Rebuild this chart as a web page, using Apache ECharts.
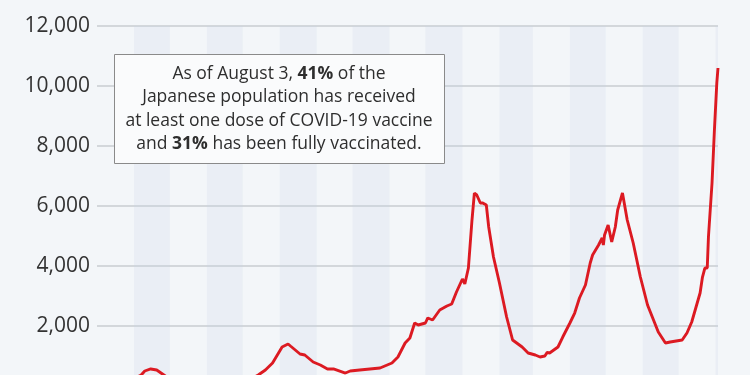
<!DOCTYPE html>
<html>
<head>
<meta charset="utf-8">
<script src="https://cdn.jsdelivr.net/npm/echarts@6/dist/echarts.min.js"></script>
<style>
html,body{margin:0;padding:0;width:750px;height:375px;overflow:hidden;background:#f3f6f9;}
#chart{width:750px;height:420px;}
</style>
</head>
<body>
<div id="chart"></div>
<script>
const dates = ['2020-03-01','2020-03-10','2020-03-20','2020-03-27','2020-04-01','2020-04-04','2020-04-07','2020-04-10','2020-04-15','2020-04-20','2020-04-26','2020-05-01','2020-05-08','2020-05-18','2020-06-01','2020-06-15','2020-07-01','2020-07-08','2020-07-14','2020-07-20','2020-07-26','2020-08-03','2020-08-08','2020-08-10','2020-08-18','2020-08-22','2020-08-29','2020-09-04','2020-09-10','2020-09-15','2020-09-25','2020-09-29','2020-10-07','2020-10-24','2020-11-03','2020-11-08','2020-11-14','2020-11-18','2020-11-22','2020-11-25','2020-12-01','2020-12-03','2020-12-07','2020-12-13','2020-12-19','2020-12-23','2020-12-27','2021-01-01','2021-01-03','2021-01-06','2021-01-09','2021-01-11','2021-01-13','2021-01-16','2021-01-18','2021-01-21','2021-01-23','2021-01-27','2021-02-01','2021-02-07','2021-02-12','2021-02-20','2021-02-25','2021-03-03','2021-03-07','2021-03-11','2021-03-13','2021-03-15','2021-03-22','2021-03-26','2021-04-01','2021-04-05','2021-04-09','2021-04-14','2021-04-18','2021-04-20','2021-04-25','2021-04-28','2021-04-29','2021-04-30','2021-05-03','2021-05-06','2021-05-09','2021-05-11','2021-05-15','2021-05-19','2021-05-24','2021-05-30','2021-06-05','2021-06-10','2021-06-14','2021-06-20','2021-06-24','2021-07-04','2021-07-08','2021-07-12','2021-07-19','2021-07-21','2021-07-23','2021-07-25','2021-07-26','2021-07-29','2021-07-31','2021-08-02','2021-08-03'];
const cases = [15,45,50,120,220,310,367,500,567,533,367,220,100,35,35,45,110,230,367,533,767,1300,1400,1333,1067,1033,800,700,567,567,433,500,533,600,767,967,1433,1600,2100,2033,2100,2267,2200,2533,2667,2733,3133,3567,3400,3933,5533,6433,6367,6100,6100,6033,5300,4300,3433,2300,1533,1300,1100,1033,967,1000,1120,1100,1300,1633,2100,2433,2933,3367,4100,4367,4700,4933,4700,5033,5367,4800,5300,5867,6433,5533,4767,3633,2700,2200,1800,1433,1467,1533,1767,2133,3100,3633,3933,3933,4967,6767,8533,10100,10600];
const bandStarts = ['2020-04-01','2020-06-01','2020-08-01','2020-10-01','2020-12-01','2021-02-01','2021-04-01','2021-06-01','2021-08-01'];
const bandEnds   = ['2020-05-01','2020-07-01','2020-09-01','2020-11-01','2021-01-01','2021-03-01','2021-05-01','2021-07-01','2021-08-03'];
const yTicks = [0,2000,4000,6000,8000,10000,12000];
const noteLines = [
  'As of August 3, {b|41%} of the',
  'Japanese population has received',
  'at least one dose of COVID-19 vaccine',
  'and {b|31%} has been fully vaccinated.'
];

const chart = echarts.init(document.getElementById('chart'), null, {renderer:'canvas'});
const font = "'Open Sans', sans-serif";
chart.setOption({
  backgroundColor: '#f3f6f9',
  animation: false,
  grid: {left: 97, right: 32, top: 26, bottom: 34},
  xAxis: {
    type: 'time',
    min: '2020-03-01',
    max: '2021-08-03',
    axisLine: {show: false},
    axisTick: {show: false},
    axisLabel: {show: false},
    splitLine: {show: false}
  },
  yAxis: {
    type: 'value',
    min: yTicks[0],
    max: yTicks[yTicks.length - 1],
    interval: 2000,
    axisLine: {show: false},
    axisTick: {show: false},
    axisLabel: {
      margin: 7,
      fontSize: 21,
      fontFamily: font,
      color: '#333333',
      formatter: v => v.toLocaleString('en-US')
    },
    splitLine: {lineStyle: {color: '#c8ccd1', width: 1.5}}
  },
  series: [{
    type: 'line',
    data: dates.map((d, i) => [d, cases[i]]),
    showSymbol: false,
    smooth: false,
    lineStyle: {color: '#dc1a22', width: 2.9},
    itemStyle: {color: '#dc1a22'},
    markArea: {
      silent: true,
      itemStyle: {color: 'rgba(200,212,232,0.2)'},
      data: bandStarts.map((s, i) => [{xAxis: s}, {xAxis: bandEnds[i]}])
    }
  }],
  graphic: [{
    type: 'rect',
    left: 114, top: 54,
    shape: {width: 330, height: 109},
    style: {fill: '#fafbfc', stroke: '#8a8a8a', lineWidth: 1},
    z: 10
  }, {
    type: 'text',
    x: 279, y: 109,
    z: 11,
    style: {
      text: noteLines.join('\n'),
      align: 'center',
      verticalAlign: 'middle',
      fontSize: 17.5,
      fontFamily: font,
      lineHeight: 23.3,
      fill: '#2e2e2e',
      rich: {
        b: {fontWeight: 'bold', fontSize: 17.5, fontFamily: font, lineHeight: 23.3, fill: '#2e2e2e'}
      }
    }
  }]
});
</script>
</body>
</html>
